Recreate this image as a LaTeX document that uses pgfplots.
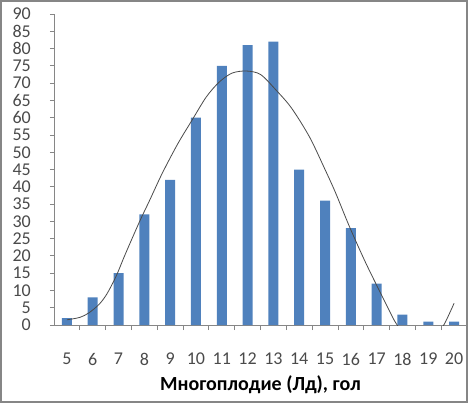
\documentclass[border=0pt]{standalone}
\usepackage{fontspec}
\setmainfont{Carlito}
\usepackage{pgfplots}
\pgfplotsset{compat=1.18}
\definecolor{barblue}{HTML}{4F81BD}
\definecolor{axgray}{HTML}{868686}
\definecolor{txtgray}{HTML}{4A4A4A}
\begin{document}
\begin{tikzpicture}
\begin{axis}[
  scale only axis, width=413bp, height=311bp,
  xmin=4.5, xmax=20.5, ymin=0, ymax=90,
  axis x line*=bottom, axis y line*=left,
  axis line style={axgray, line width=0.8bp},
  xtick={5,...,20},
  minor xtick={5.5,6.5,...,19.5},
  major x tick style={draw=none},
  minor tick length=5bp,
  major tick length=4bp,
  tick align=outside,
  ytick={0,5,...,90},
  tick style={axgray, line width=0.8bp},
  /pgf/number format/assume math mode=true,
  tick label style={font=\fontsize{18bp}{18bp}\selectfont, text=txtgray, inner sep=0pt},
  yticklabel style={anchor=east, xshift=-19bp},
  xticklabel style={anchor=center, yshift=-30bp},
  xlabel={\textbf{Многоплодие (Лд), гол}},
  xlabel style={font=\fontsize{20bp}{20bp}\selectfont, at={(axis description cs:0.5,0)}, anchor=center, yshift=-60bp, inner sep=0pt},
]
\addplot[ybar, bar width=10bp, fill=barblue, draw=none] coordinates {
(5,2)(6,8)(7,15)(8,32)(9,42)(10,60)(11,75)(12,81)(13,82)(14,45)(15,36)(16,28)(17,12)(18,3)(19,1)(20,1)};
\addplot[smooth, color=txtgray, line width=0.8bp] coordinates {
(5,1.5)(5.5,2.2)(5.85,3.5)(6.25,6)(6.55,9)(6.9,14)(7.2,19.4)(7.5,24.6)(7.85,30.5)(8.2,36)(8.7,44)(9.3,52.5)(9.85,59.3)(10.4,66)(10.9,70.3)(11.4,72.9)(11.95,73.5)(12.5,72.5)(13.1,68)(13.7,62.8)(14.4,54.4)(15.0,45)(15.4,38.4)(15.95,28.4)(16.55,18.4)(17.1,10)(17.5,4)(17.75,0.5)(18.2,-4)(18.7,-6)(19.2,-4.5)(19.6,0)(19.8,3)(20,6.3)};
\end{axis}
\pgfresetboundingbox
\path[use as bounding box] (-54bp,-78bp) rectangle (414bp,325bp);
\draw[axgray, line width=1.2bp] (-53bp,-77bp) rectangle (413bp,324bp);
\end{tikzpicture}
\end{document}
